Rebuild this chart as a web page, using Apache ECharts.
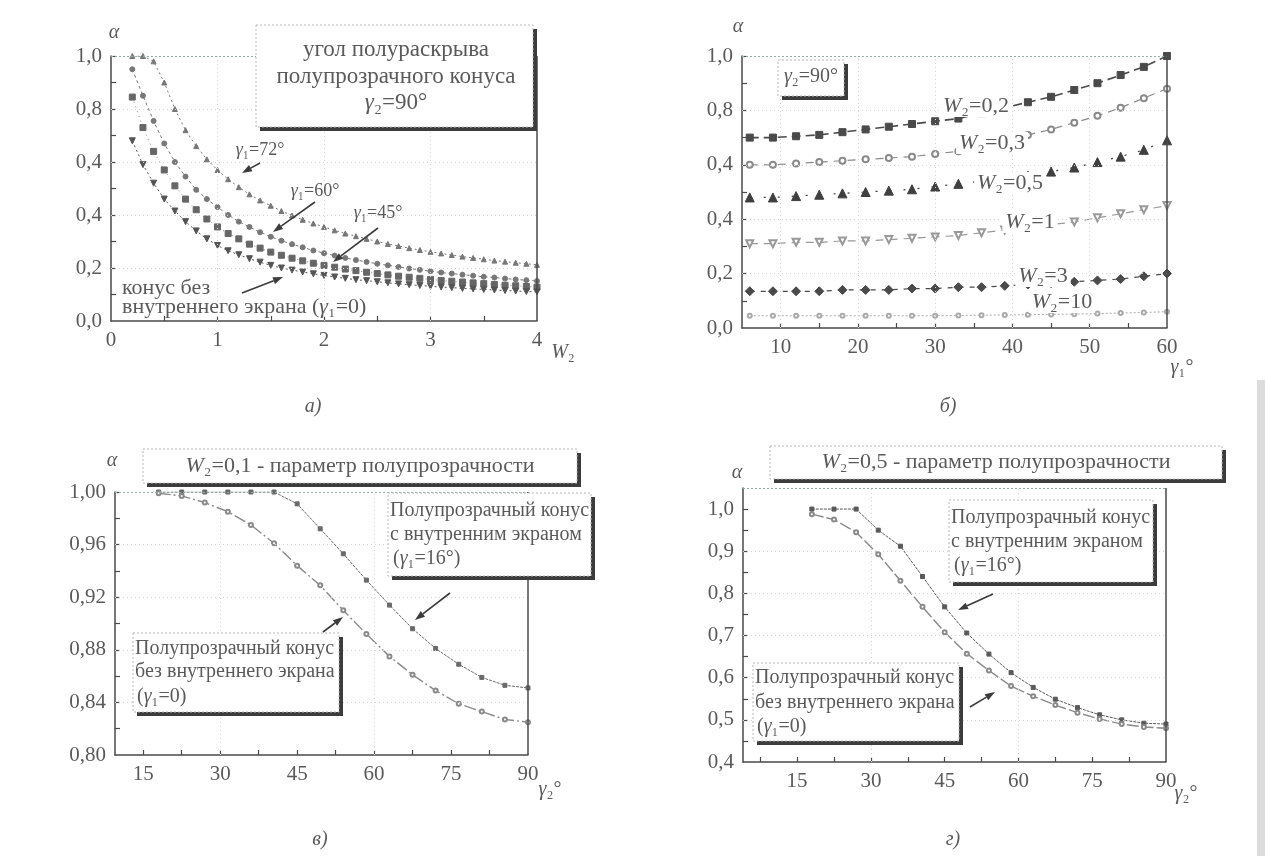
<!DOCTYPE html>
<html>
<head>
<meta charset="utf-8">
<script src="https://cdn.jsdelivr.net/npm/echarts@6/dist/echarts.min.js"></script>
<style>
  html, body { margin: 0; background: #fff; }
  #chart { width: 1265px; height: 856px; }
</style>
</head>
<body>
<div id="chart"></div>
<script>
// а) alpha vs W2, gamma2 = 90
const wA = [0.2, 0.3, 0.4, 0.5, 0.6, 0.7, 0.8, 0.9, 1.0, 1.1, 1.2, 1.3, 1.4, 1.5, 1.6, 1.7, 1.8, 1.9, 2.0,
  2.1, 2.2, 2.3, 2.4, 2.5, 2.6, 2.7, 2.8, 2.9, 3.0, 3.1, 3.2, 3.3, 3.4, 3.5, 3.6, 3.7, 3.8, 3.9, 4.0]
const a72 = [1.0, 1.0, 0.98, 0.90, 0.80, 0.72, 0.66, 0.61, 0.57, 0.535, 0.505, 0.478, 0.455, 0.435, 0.415, 0.398, 0.382, 0.368, 0.355,
  0.342, 0.33, 0.32, 0.31, 0.30, 0.291, 0.283, 0.275, 0.268, 0.261, 0.255, 0.249, 0.243, 0.238, 0.233, 0.228, 0.224, 0.22, 0.216, 0.212]
const a60 = [0.95, 0.85, 0.755, 0.67, 0.60, 0.545, 0.495, 0.46, 0.43, 0.40, 0.375, 0.355, 0.335, 0.318, 0.303, 0.29, 0.278, 0.266, 0.256,
  0.247, 0.238, 0.23, 0.223, 0.216, 0.21, 0.204, 0.198, 0.193, 0.188, 0.183, 0.179, 0.175, 0.171, 0.167, 0.164, 0.16, 0.157, 0.154, 0.151]
const a45 = [0.845, 0.73, 0.64, 0.57, 0.51, 0.46, 0.42, 0.385, 0.355, 0.33, 0.31, 0.29, 0.275, 0.26, 0.248, 0.237, 0.227, 0.218, 0.21,
  0.203, 0.196, 0.19, 0.184, 0.179, 0.174, 0.169, 0.165, 0.161, 0.157, 0.153, 0.15, 0.147, 0.144, 0.141, 0.138, 0.135, 0.133, 0.13, 0.128]
const a0 = [0.68, 0.59, 0.52, 0.46, 0.415, 0.375, 0.34, 0.31, 0.285, 0.265, 0.25, 0.235, 0.222, 0.21, 0.2, 0.192, 0.185, 0.178, 0.172,
  0.166, 0.161, 0.156, 0.152, 0.148, 0.144, 0.14, 0.137, 0.134, 0.131, 0.128, 0.126, 0.123, 0.121, 0.119, 0.117, 0.115, 0.113, 0.111, 0.11]
// y tick labels of а) and б) as printed (the 0,6 tick reads "0,4" in the source)
const yLabelsAB = ['0,0', '0,2', '0,4', '0,4', '0,8', '1,0']

// б) alpha vs gamma1, gamma2 = 90
const gB = [6, 9, 12, 15, 18, 21, 24, 27, 30, 33, 36, 39, 42, 45, 48, 51, 54, 57, 60]
const bW02 = [0.70, 0.70, 0.705, 0.71, 0.72, 0.73, 0.74, 0.75, 0.76, 0.77, 0.79, 0.81, 0.83, 0.85, 0.875, 0.90, 0.93, 0.96, 1.0]
const bW03 = [0.60, 0.60, 0.605, 0.61, 0.615, 0.62, 0.625, 0.63, 0.64, 0.65, 0.67, 0.69, 0.71, 0.73, 0.755, 0.78, 0.81, 0.845, 0.88]
const bW05 = [0.48, 0.48, 0.485, 0.49, 0.495, 0.50, 0.505, 0.51, 0.52, 0.53, 0.54, 0.55, 0.56, 0.575, 0.59, 0.61, 0.63, 0.655, 0.69]
const bW1 = [0.31, 0.31, 0.315, 0.315, 0.32, 0.32, 0.325, 0.33, 0.335, 0.34, 0.35, 0.36, 0.37, 0.38, 0.39, 0.405, 0.42, 0.435, 0.45]
const bW3 = [0.135, 0.135, 0.135, 0.135, 0.14, 0.14, 0.14, 0.145, 0.145, 0.15, 0.15, 0.155, 0.16, 0.165, 0.17, 0.175, 0.18, 0.19, 0.20]
const bW10 = [0.045, 0.045, 0.045, 0.045, 0.045, 0.045, 0.045, 0.045, 0.045, 0.046, 0.047, 0.048, 0.049, 0.05, 0.051, 0.053, 0.055, 0.057, 0.06]

// в) W2 = 0,1 and г) W2 = 0,5, alpha vs gamma2
const gCD = [18, 22.5, 27, 31.5, 36, 40.5, 45, 49.5, 54, 58.5, 63, 67.5, 72, 76.5, 81, 85.5, 90]
const c16 = [1, 1, 1, 1, 1, 1, 0.991, 0.972, 0.953, 0.933, 0.914, 0.896, 0.881, 0.869, 0.859, 0.853, 0.851]
const c0 = [0.999, 0.997, 0.992, 0.985, 0.975, 0.961, 0.944, 0.929, 0.910, 0.892, 0.875, 0.861, 0.849, 0.839, 0.833, 0.827, 0.825]
const d16 = [1.0, 1.0, 1.0, 0.95, 0.912, 0.84, 0.768, 0.706, 0.656, 0.612, 0.577, 0.549, 0.529, 0.512, 0.50, 0.492, 0.49]
const d0 = [0.988, 0.975, 0.945, 0.893, 0.83, 0.768, 0.708, 0.657, 0.617, 0.58, 0.556, 0.535, 0.517, 0.502, 0.49, 0.483, 0.48]

const FONT = 'Liberation Serif'
const INK = '#4a4a4a'
const TXT = '#5a5a5a'

function pairs(xs, ys) {
  return xs.map((x, i) => [x, ys[i]])
}

function valueAxis(idx, min, max, labels, ticks, fmt) {
  return {
    type: 'value',
    gridIndex: idx,
    min: min,
    max: max,
    axisLine: { show: true, onZero: false, lineStyle: { color: INK, width: 1.5 } },
    axisTick: { show: true, inside: true, length: 5, customValues: ticks, lineStyle: { color: INK, width: 1.2 } },
    axisLabel: { customValues: labels, formatter: fmt, color: TXT, fontFamily: FONT, fontSize: 21, margin: 9 },
    splitLine: { show: false }
  }
}

// dotted grid, dotted top edge, solid right edge
function frame(xs, ys, xMax, yMax) {
  const data = []
  xs.forEach(v => data.push({ xAxis: v }))
  ys.forEach(v => data.push({ yAxis: v }))
  data.push({ yAxis: yMax, lineStyle: { color: '#9aa', type: [2, 2], width: 1 } })
  data.push({ xAxis: xMax, lineStyle: { color: INK, type: 'solid', width: 1.5 } })
  return {
    silent: true,
    symbol: 'none',
    label: { show: false },
    lineStyle: { color: '#d4d4d4', type: [1, 3], width: 1 },
    data: data
  }
}

function line(idx, xs, ys, sym, size, color, dash, width, extra) {
  return Object.assign({
    type: 'line',
    xAxisIndex: idx,
    yAxisIndex: idx,
    data: pairs(xs, ys),
    symbol: sym,
    symbolSize: size,
    showSymbol: true,
    itemStyle: { color: color, borderColor: color },
    lineStyle: { color: color, type: dash, width: width }
  }, extra || {})
}

// annotation helpers
function txt(x, y, text, align, size) {
  const fs = size || 20
  return {
    type: 'text', x: x, y: y, z: 20,
    style: {
      text: text, fill: TXT, font: fs + 'px "' + FONT + '"',
      textAlign: align || 'center', textVerticalAlign: 'middle',
      rich: { i: { fontStyle: 'italic', fontFamily: FONT, fontSize: fs, fill: TXT } }
    }
  }
}
function tag(x, y, text) {
  const t = txt(x, y, text, 'center', 22)
  t.style.backgroundColor = '#fff'
  t.style.padding = [0, 3]
  return t
}
function box(x, y, w, h) {
  return [
    { type: 'rect', z: 15, shape: { x: x + 4, y: y + 4, width: w, height: h }, style: { fill: '#3c3c3c' } },
    { type: 'rect', z: 16, shape: { x: x, y: y, width: w, height: h }, style: { fill: '#fff', stroke: '#b8b8b8', lineWidth: 1, lineDash: [2, 2] } }
  ]
}
function arrow(x1, y1, x2, y2) {
  const ang = Math.atan2(y2 - y1, x2 - x1)
  const L = 10, W = 3.5
  const bx = x2 - L * Math.cos(ang), by = y2 - L * Math.sin(ang)
  const px = -Math.sin(ang) * W, py = Math.cos(ang) * W
  return [
    { type: 'line', z: 20, shape: { x1: x1, y1: y1, x2: bx, y2: by }, style: { stroke: '#3c3c3c', lineWidth: 1.6 } },
    { type: 'polygon', z: 20, shape: { points: [[x2, y2], [bx + px, by + py], [bx - px, by - py]] }, style: { fill: '#3c3c3c' } }
  ]
}

const fmtInt = v => String(v)
const fmtAB = v => yLabelsAB[Math.round(v * 5)]
const fmtC = v => v.toFixed(2).replace('.', ',')
const fmtD = v => v.toFixed(1).replace('.', ',')

const graphics = [].concat(
  // а)
  box(256, 25, 277, 102),
  txt(396, 50, 'угол полураскрыва', 'center', 23),
  txt(396, 77, 'полупрозрачного конуса', 'center', 23),
  txt(396, 103, '{i|γ}₂=90°', 'center', 23),
  txt(260, 150, '{i|γ}₁=72°', 'center', 18),
  arrow(260, 163, 242, 173),
  txt(315, 191, '{i|γ}₁=60°', 'center', 18),
  arrow(315, 202, 273, 232),
  txt(378, 213, '{i|γ}₁=45°', 'center', 18),
  arrow(378, 228, 333, 262),
  txt(122, 288, 'конус без', 'left', 22),
  txt(122, 307, 'внутреннего экрана ({i|γ}₁=0)', 'left', 22),
  arrow(242, 293, 283, 277),
  txt(114, 33, '{i|α}'),
  txt(563, 353, '{i|W}₂'),
  txt(313, 407, '{i|а)}'),
  // б)
  box(778, 60, 66, 36),
  txt(811, 77, '{i|γ}₂=90°'),
  tag(976, 106, '{i|W}₂=0,2'),
  tag(992, 143, '{i|W}₂=0,3'),
  tag(1010, 183, '{i|W}₂=0,5'),
  tag(1030, 222, '{i|W}₂=1'),
  tag(1043, 276, '{i|W}₂=3'),
  tag(1062, 302, '{i|W}₂=10'),
  txt(738, 27, '{i|α}'),
  txt(1182, 368, '{i|γ}₁°'),
  txt(948, 407, '{i|б)}'),
  // в)
  box(143, 449, 434, 34),
  txt(360, 466, '{i|W}₂=0,1 - параметр полупрозрачности', 'center', 22),
  box(388, 493, 203, 83),
  txt(390, 511, 'Полупрозрачный конус', 'left'),
  txt(390, 535, 'с внутренним экраном', 'left'),
  txt(393, 559, '({i|γ}₁=16°)', 'left'),
  arrow(450, 593, 415, 620),
  box(133, 633, 206, 79),
  txt(135, 649, 'Полупрозрачный конус', 'left'),
  txt(135, 672, 'без внутреннего экрана', 'left'),
  txt(137, 697, '({i|γ}₁=0)', 'left'),
  arrow(323, 632, 343, 617),
  txt(112, 461, '{i|α}'),
  txt(550, 790, '{i|γ}₂°'),
  txt(320, 840, '{i|в)}'),
  // г)
  box(770, 446, 452, 33),
  txt(996, 462, '{i|W}₂=0,5 - параметр полупрозрачности', 'center', 22),
  box(949, 500, 204, 82),
  txt(951, 518, 'Полупрозрачный конус', 'left'),
  txt(951, 542, 'с внутренним экраном', 'left'),
  txt(954, 566, '({i|γ}₁=16°)', 'left'),
  arrow(993, 594, 958, 610),
  box(753, 663, 206, 78),
  txt(755, 678, 'Полупрозрачный конус', 'left'),
  txt(755, 703, 'без внутреннего экрана', 'left'),
  txt(757, 727, '({i|γ}₁=0)', 'left'),
  arrow(970, 707, 995, 692),
  txt(737, 473, '{i|α}'),
  txt(1186, 794, '{i|γ}₂°'),
  txt(953, 840, '{i|г)}'),
  // scanner shading at the right edge
  [{ type: 'rect', z: 1, shape: { x: 1257, y: 380, width: 8, height: 476 }, style: { fill: '#dcdcdc' } }]
)

const chart = echarts.init(document.getElementById('chart'))
chart.setOption({
  animation: false,
  backgroundColor: '#fff',
  textStyle: { fontFamily: FONT },
  grid: [
    { left: 111, top: 56, width: 426, height: 265 },
    { left: 742, top: 56, width: 425, height: 272 },
    { left: 115, top: 492, width: 413, height: 263 },
    { left: 743, top: 488, width: 423, height: 274 }
  ],
  xAxis: [
    valueAxis(0, 0, 4, [0, 1, 2, 3, 4], [0.5, 1, 1.5, 2, 2.5, 3, 3.5], fmtInt),
    valueAxis(1, 5, 60, [10, 20, 30, 40, 50, 60], [10, 15, 20, 25, 30, 35, 40, 45, 50, 55], fmtInt),
    valueAxis(2, 9.5, 90, [15, 30, 45, 60, 75, 90], [15, 22.5, 30, 37.5, 45, 52.5, 60, 67.5, 75, 82.5], fmtInt),
    valueAxis(3, 4, 90, [15, 30, 45, 60, 75, 90], [7.5, 15, 22.5, 30, 37.5, 45, 52.5, 60, 67.5, 75, 82.5], fmtInt)
  ],
  yAxis: [
    valueAxis(0, 0, 1, [0, 0.2, 0.4, 0.6, 0.8, 1.0], [0.1, 0.2, 0.3, 0.4, 0.5, 0.6, 0.7, 0.8, 0.9, 1.0], fmtAB),
    valueAxis(1, 0, 1, [0, 0.2, 0.4, 0.6, 0.8, 1.0], [0.1, 0.2, 0.3, 0.4, 0.5, 0.6, 0.7, 0.8, 0.9, 1.0], fmtAB),
    valueAxis(2, 0.8, 1.0, [0.8, 0.84, 0.88, 0.92, 0.96, 1.0], [0.82, 0.84, 0.86, 0.88, 0.9, 0.92, 0.94, 0.96, 0.98, 1.0], fmtC),
    valueAxis(3, 0.4, 1.05, [0.4, 0.5, 0.6, 0.7, 0.8, 0.9, 1.0], [0.45, 0.5, 0.55, 0.6, 0.65, 0.7, 0.75, 0.8, 0.85, 0.9, 0.95, 1.0], fmtD)
  ],
  series: [
    // а)
    line(0, wA, a72, 'triangle', 5, '#777', [2, 3], 1, { markLine: frame([1, 2, 3], [0.2, 0.4, 0.6, 0.8], 4, 1.0) }),
    line(0, wA, a60, 'circle', 5, '#777', [3, 3], 1),
    line(0, wA, a45, 'rect', 6, '#666', [1, 4], 0.8),
    line(0, wA, a0, 'triangle', 6, '#555', [2, 3], 1, { symbolRotate: 180 }),
    // б)
    line(1, gB, bW02, 'rect', 7, '#4a4a4a', [9, 5], 1.6, { markLine: frame([10, 20, 30, 40, 50], [0.2, 0.4, 0.6, 0.8], 60, 1.0) }),
    line(1, gB, bW03, 'emptyCircle', 6, '#8a8a8a', [8, 6], 1.2),
    line(1, gB, bW05, 'triangle', 9, '#3f3f3f', [2, 12], 1.2),
    line(1, gB, bW1, 'emptyTriangle', 7, '#999', [8, 6], 1.2, { symbolRotate: 180 }),
    line(1, gB, bW3, 'diamond', 9, '#4a4a4a', [5, 6], 1.2),
    line(1, gB, bW10, 'emptyCircle', 4, '#aaa', [2, 2], 1),
    // в)
    line(2, gCD, c16, 'rect', 4, '#6a6a6a', [3, 1], 1, { markLine: frame([30, 60], [0.84, 0.88, 0.92, 0.96], 90, 1.0) }),
    line(2, gCD, c0, 'emptyCircle', 4, '#8a8a8a', [12, 3, 2, 3], 1.4),
    // г)
    line(3, gCD, d16, 'rect', 4, '#5a5a5a', [3, 1], 1, { markLine: frame([30, 60], [0.5, 0.6, 0.7, 0.8, 0.9], 90, 1.05) }),
    line(3, gCD, d0, 'emptyCircle', 4, '#8a8a8a', [12, 3], 1.4)
  ],
  graphic: { elements: graphics }
})
</script>
</body>
</html>
